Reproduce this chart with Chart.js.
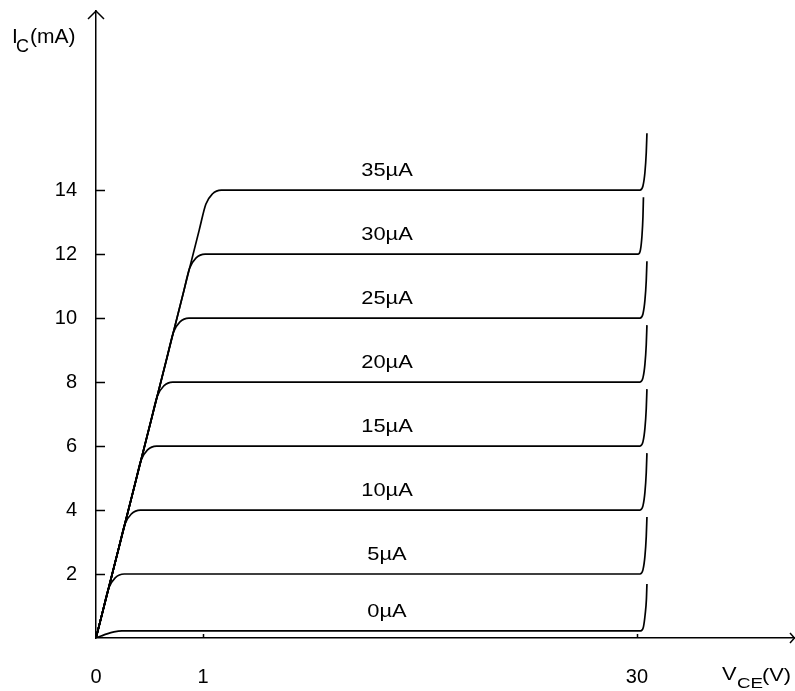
<!DOCTYPE html>
<html>
<head>
<meta charset="utf-8">
<script src="https://cdn.jsdelivr.net/npm/chart.js@4.4.0/dist/chart.umd.min.js"></script>
<style>
  html, body { margin: 0; padding: 0; background: #fff; }
  canvas { display: block; }
</style>
</head>
<body>
<canvas id="chart" width="795" height="691"></canvas>
<script>
// base current of each curve and the flat Ic level it sits at (mA)
const baseCurrents = ['0µA', '5µA', '10µA', '15µA', '20µA', '25µA', '30µA', '35µA'];
const flatLevels = [0.22, 2, 4, 6, 8, 10, 12, 14];

const xTicks = [0, 1, 30];
const yTicks = [2, 4, 6, 8, 10, 12, 14];

// [Vce (V), Ic (mA)]
const curve0 = [[0, 0], [0.047, 0.06], [0.103, 0.13], [0.168, 0.19], [0.243, 0.22], [30.246, 0.22], [30.43, 0.34], [30.55, 0.75], [30.63, 1.2], [30.667, 1.69]];
const curve5 = [[0, 0], [0.057, 0.75], [0.118, 1.56], [0.179, 1.88], [0.264, 2], [30.199, 2], [30.4, 2.13], [30.533, 2.56], [30.62, 3.16], [30.667, 3.78]];
const curve10 = [[0, 0], [0.208, 2.75], [0.27, 3.56], [0.331, 3.88], [0.415, 4], [30.199, 4], [30.4, 4.13], [30.533, 4.56], [30.62, 5.16], [30.667, 5.78]];
const curve15 = [[0, 0], [0.36, 4.75], [0.421, 5.56], [0.482, 5.88], [0.566, 6], [30.199, 6], [30.4, 6.13], [30.533, 6.56], [30.62, 7.16], [30.667, 7.78]];
const curve20 = [[0, 0], [0.511, 6.75], [0.573, 7.56], [0.634, 7.88], [0.718, 8], [30.199, 8], [30.4, 8.13], [30.533, 8.56], [30.62, 9.16], [30.667, 9.78]];
const curve25 = [[0, 0], [0.663, 8.75], [0.724, 9.56], [0.785, 9.88], [0.869, 10], [30.199, 10], [30.4, 10.13], [30.533, 10.56], [30.62, 11.16], [30.667, 11.78]];
const curve30 = [[0, 0], [0.814, 10.75], [0.875, 11.56], [0.936, 11.88], [1.147, 12], [30.086, 12], [30.233, 12.13], [30.333, 12.56], [30.4, 13.16], [30.433, 13.78]];
const curve35 = [[0, 0], [0.965, 12.75], [1.192, 13.56], [1.628, 13.88], [2.229, 14], [30.199, 14], [30.4, 14.13], [30.533, 14.56], [30.62, 15.16], [30.667, 15.78]];

const curves = [curve0, curve5, curve10, curve15, curve20, curve25, curve30, curve35];

const FONT = 'Arial, "Liberation Sans", sans-serif';
const X_BREAK = 1;          // axis is broken after 1 V
const X_BREAK_FRAC = 0.153; // share of the axis width used by 0..1 V
const LABEL_V = 13.3;       // where the base current labels sit

// linear scale with a break: 0..1 V gets a wide section, the rest is compressed
class BrokenScale extends Chart.LinearScale {
  getPixelForValue(value) {
    const w = this.right - this.left;
    let f;
    if (value <= X_BREAK) {
      f = (value - this.min) / (X_BREAK - this.min) * X_BREAK_FRAC;
    } else {
      f = X_BREAK_FRAC + (value - X_BREAK) / (this.max - X_BREAK) * (1 - X_BREAK_FRAC);
    }
    return this.left + f * w;
  }
  getValueForPixel(pixel) {
    const f = (pixel - this.left) / (this.right - this.left);
    if (f <= X_BREAK_FRAC) return this.min + f / X_BREAK_FRAC * (X_BREAK - this.min);
    return X_BREAK + (f - X_BREAK_FRAC) / (1 - X_BREAK_FRAC) * (this.max - X_BREAK);
  }
}
BrokenScale.id = 'broken';
BrokenScale.defaults = Chart.LinearScale.defaults;
Chart.register(BrokenScale);

function drawText(ctx, text, x, y, size, sx, align) {
  ctx.save();
  ctx.font = size + 'px ' + FONT;
  ctx.textAlign = align || 'left';
  ctx.textBaseline = 'alphabetic';
  ctx.translate(x, y);
  ctx.scale(sx, 1);
  ctx.fillText(text, 0, 0);
  ctx.restore();
}

// no extra room for half tick labels, the plot area is pinned by the padding
function pinBox(s) {
  s.paddingTop = 0;
  s.paddingBottom = 0;
  s.paddingLeft = 0;
  s.paddingRight = 0;
}

const extras = {
  id: 'extras',
  afterDraw(chart) {
    const ctx = chart.ctx;
    const xs = chart.scales.x, ys = chart.scales.y;
    const area = chart.chartArea;
    ctx.save();
    ctx.strokeStyle = '#000';
    ctx.fillStyle = '#000';
    ctx.lineWidth = 1.5;

    // arrow heads
    ctx.beginPath();
    ctx.moveTo(area.left - 8, area.top + 8);
    ctx.lineTo(area.left, area.top);
    ctx.lineTo(area.left + 8, area.top + 8);
    ctx.moveTo(area.right - 5, area.bottom - 5);
    ctx.lineTo(area.right - 0.5, area.bottom);
    ctx.lineTo(area.right - 5, area.bottom + 5);
    ctx.stroke();

    // inner tick marks
    ctx.beginPath();
    yTicks.forEach(v => {
      const py = Math.round(ys.getPixelForValue(v)) + 0.5;
      ctx.moveTo(area.left, py);
      ctx.lineTo(area.left + 9, py);
    });
    xTicks.slice(1).forEach(v => {
      const px = Math.round(xs.getPixelForValue(v)) + 0.5;
      ctx.moveTo(px, area.bottom);
      ctx.lineTo(px, area.bottom - 4);
    });
    ctx.stroke();

    // base current labels
    baseCurrents.forEach((t, i) => {
      const px = xs.getPixelForValue(LABEL_V);
      const py = ys.getPixelForValue(flatLevels[i]) - 14;
      drawText(ctx, t, px, py, 19, 1.15, 'center');
    });

    // axis titles
    drawText(ctx, 'I', 12, 43, 21, 1, 'left');
    drawText(ctx, 'C', 16, 52, 18, 1, 'left');
    drawText(ctx, '(mA)', 30, 43, 21, 1, 'left');

    drawText(ctx, 'V', 722, 680, 19, 1.15, 'left');
    drawText(ctx, 'CE', 737, 688, 15, 1.25, 'left');
    drawText(ctx, '(V)', 762, 681, 19, 1.15, 'left');
    ctx.restore();
  }
};

new Chart(document.getElementById('chart'), {
  type: 'line',
  data: {
    datasets: curves.map((c, i) => ({
      label: baseCurrents[i],
      data: c.map(p => ({ x: p[0], y: p[1] })),
      borderColor: '#000',
      borderWidth: 1.7,
      pointRadius: 0,
      fill: false,
      cubicInterpolationMode: 'monotone'
    }))
  },
  options: {
    responsive: false,
    animation: false,
    layout: { padding: { top: 11, right: 0, left: 0, bottom: 0 } },
    plugins: {
      legend: { display: false },
      tooltip: { enabled: false }
    },
    scales: {
      x: {
        type: 'broken',
        min: 0,
        max: 40.56,
        afterBuildTicks: s => { s.ticks = xTicks.map(v => ({ value: v })); },
        afterFit: s => { s.height = 53; pinBox(s); },
        grid: { display: false, drawTicks: false },
        border: { display: true, color: '#000', width: 1.5 },
        ticks: {
          color: '#000',
          font: { family: FONT, size: 20 },
          padding: 27,
          autoSkip: false,
          maxRotation: 0,
          callback: v => String(v)
        }
      },
      y: {
        type: 'linear',
        min: 0,
        max: 19.6,
        afterBuildTicks: s => { s.ticks = yTicks.map(v => ({ value: v })); },
        afterFit: s => { s.width = 96; pinBox(s); },
        grid: { display: false, drawTicks: false },
        border: { display: true, color: '#000', width: 1.5 },
        ticks: {
          color: '#000',
          font: { family: FONT, size: 20 },
          padding: 19,
          callback: v => String(v)
        }
      }
    }
  },
  plugins: [extras]
});
</script>
</body>
</html>
